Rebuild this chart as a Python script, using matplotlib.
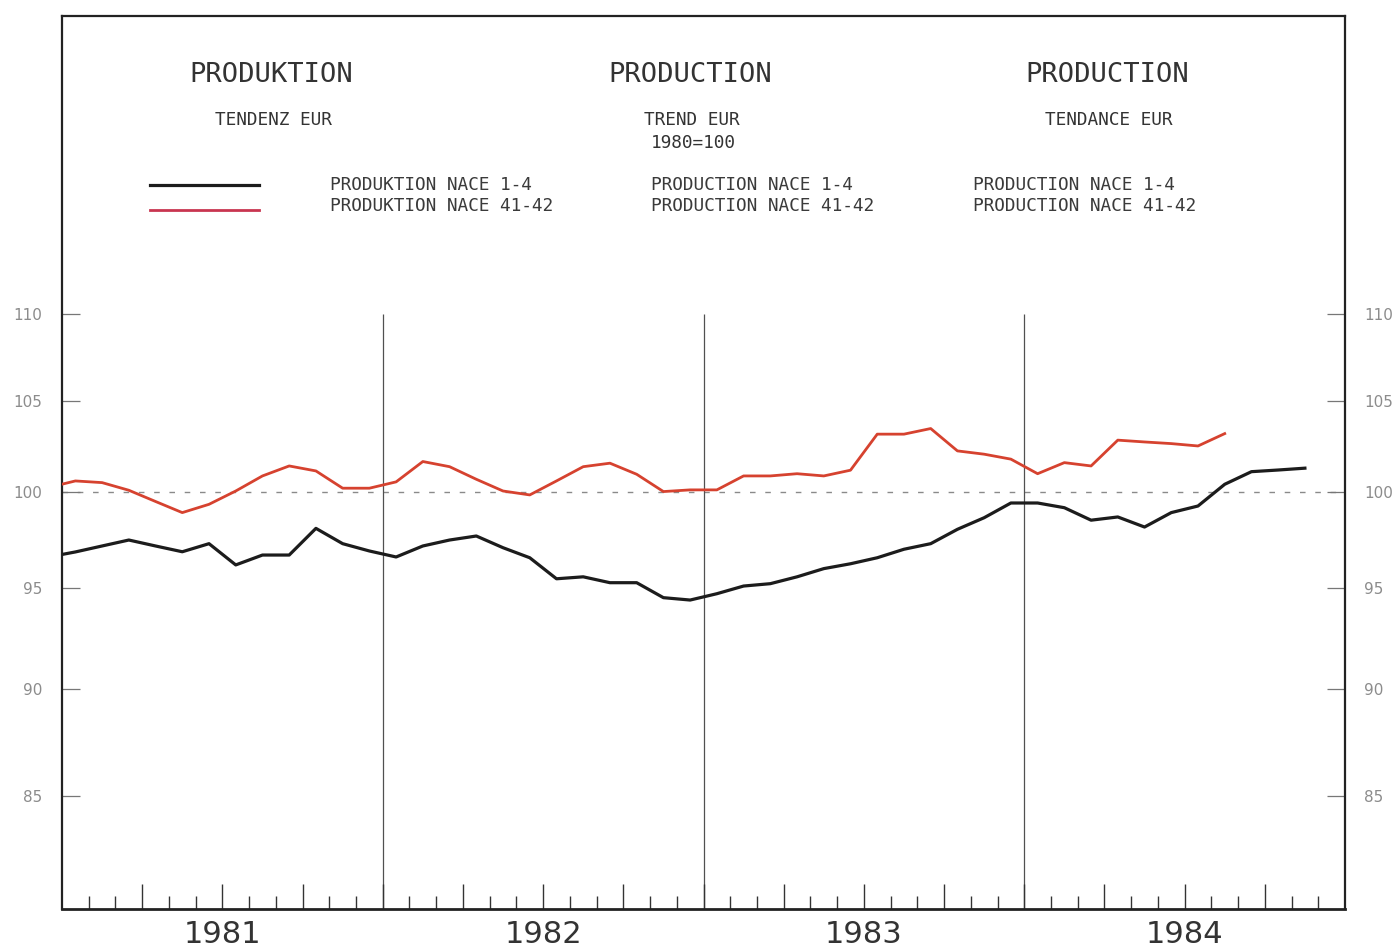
import numpy as np
import matplotlib
matplotlib.use("Agg")
import matplotlib.pyplot as plt
from matplotlib.lines import Line2D
from matplotlib.ticker import FixedLocator, FixedFormatter, NullLocator

# Monthly index values (1980=100), first value is Dec 1980 (clipped at the left edge)
nace_1_4 = [96.58, 96.84, 97.15, 97.46, 97.15, 96.85, 97.27, 96.17, 96.68, 96.68, 98.07, 97.27, 96.89,
            96.58, 97.15, 97.46, 97.67, 97.06, 96.54, 95.46, 95.56, 95.26, 95.26, 94.50, 94.38,
            94.70, 95.09, 95.21, 95.56, 95.98, 96.23, 96.54, 96.98, 97.27, 98.02, 98.63, 99.41,
            99.41, 99.16, 98.50, 98.67, 98.14, 98.90, 99.25, 100.41, 101.09, 101.18, 101.28]
nace_41_42 = [100.24, 100.59, 100.50, 100.09, 99.49, 98.90, 99.34, 100.05, 100.86, 101.40, 101.13, 100.20, 100.20,
              100.54, 101.64, 101.36, 100.68, 100.05, 99.84, 100.59, 101.36, 101.55, 100.95, 100.02, 100.11,
              100.11, 100.86, 100.86, 100.98, 100.86, 101.17, 103.14, 103.14, 103.45, 102.22, 102.04, 101.77,
              100.98, 101.58, 101.40, 102.81, 102.71, 102.62, 102.49, 103.17]
years = ["1981", "1982", "1983", "1984"]
y_ticks = [85, 90, 95, 100, 105, 110]

BLACK = "#1c1c1c"
RED = "#d6422f"

fig = plt.figure(figsize=(13.99, 9.49), dpi=100)
ax = fig.add_axes([62 / 1399, 1 - 909 / 949, (1345 - 62) / 1399, (909 - 16) / 949])

# months counted from Jan 1981, points plotted mid-month
x_black = np.arange(len(nace_1_4)) - 0.5
x_red = np.arange(len(nace_41_42)) - 0.5

ax.set_yscale("log")
ax.set_xlim(0, 48)
ax.set_ylim(80, 129)

# reference line at 100 and year separators
ax.axhline(100, color="#8a8a8a", lw=1.0, ls=(0, (4, 7)), zorder=1)
ax.vlines([12, 24, 36], 80, 110, color="#505050", lw=0.9, zorder=1)

ax.plot(x_black, nace_1_4, color=BLACK, lw=2.3, zorder=3, solid_joinstyle="round")
ax.plot(x_red, nace_41_42, color=RED, lw=2.0, zorder=3, solid_joinstyle="round")

# y axis on both sides
ax.yaxis.set_major_locator(FixedLocator(y_ticks))
ax.yaxis.set_major_formatter(FixedFormatter([str(v) for v in y_ticks]))
ax.yaxis.set_minor_locator(NullLocator())
ax.tick_params(axis="y", which="both", direction="in", length=13, width=0.9, color="#777777",
               left=True, right=True, labelleft=True, labelright=True, pad=14,
               labelsize=11, labelcolor="#8c8c8c")
for lbl in ax.get_yticklabels():
    lbl.set_va("center_baseline")

# x axis: month ticks, longer quarter ticks
quarters = [m for m in range(3, 48, 3)]
months = [m for m in range(1, 48) if m % 3 != 0]
ax.xaxis.set_major_locator(FixedLocator(quarters))
ax.xaxis.set_minor_locator(FixedLocator(months))
ax.xaxis.set_major_formatter(FixedFormatter([""] * len(quarters)))
ax.tick_params(axis="x", which="major", direction="in", length=18, width=1.0, color="#333333")
ax.tick_params(axis="x", which="minor", direction="in", length=9.5, width=1.0, color="#333333")

for i, yr in enumerate(years):
    ax.text(12 * i + 6, -0.029, yr, transform=ax.get_xaxis_transform(), ha="center", va="center",
            fontsize=22, color="#333333", family="DejaVu Sans")

for side in ["left", "right", "top"]:
    ax.spines[side].set_linewidth(1.6)
    ax.spines[side].set_color("#222222")
ax.spines["bottom"].set_linewidth(2.0)
ax.spines["bottom"].set_color("#222222")

# header texts in three languages
mono = "DejaVu Sans Mono"
def ftext(x, y, s, size, ha="center", color="#333333"):
    fig.text(x / 1399, 1 - y / 949, s, ha=ha, va="center", fontsize=size, family=mono, color=color)

for cx, title, sub in [(271, "PRODUKTION", "TENDENZ EUR"),
                       (690, "PRODUCTION", "TREND EUR"),
                       (1107, "PRODUCTION", "TENDANCE EUR")]:
    ftext(cx, 75, title, 19.5)
    ftext(cx + 2, 120, sub, 12.8)
ftext(693, 143, "1980=100", 12.8)

for lx, lang in [(330, "PRODUKTION"), (651, "PRODUCTION"), (973, "PRODUCTION")]:
    ftext(lx, 185, lang + " NACE 1-4", 12.8, ha="left", color="#3a3a3a")
    ftext(lx, 206, lang + " NACE 41-42", 12.8, ha="left", color="#3a3a3a")

fig.add_artist(Line2D([150 / 1399, 259 / 1399], [1 - 185 / 949] * 2, color=BLACK, lw=2.3))
fig.add_artist(Line2D([150 / 1399, 259 / 1399], [1 - 210 / 949] * 2, color="#c93550", lw=2.0))

fig.savefig("out.png", dpi=100)
